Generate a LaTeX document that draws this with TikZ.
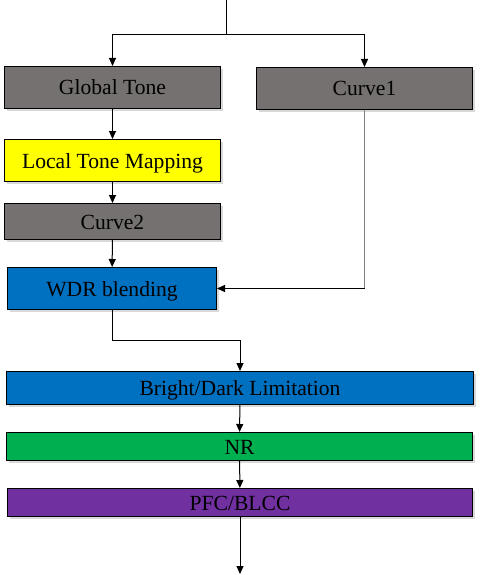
\documentclass[tikz,border=0pt]{standalone}
\usepackage{fontspec}
\setmainfont{Liberation Serif}
\usetikzlibrary{arrows.meta,shadows}
\definecolor{tonegray}{HTML}{757170}
\definecolor{ltmyellow}{HTML}{FFFF00}
\definecolor{wdrblue}{HTML}{0070C0}
\definecolor{nrgreen}{HTML}{00B050}
\definecolor{pfcpurple}{HTML}{7030A0}
\tikzset{
  blk/.style={draw=black, line width=1pt, anchor=north west, inner sep=0pt,
    text height=15pt, text depth=0pt, font=\fontsize{21.6}{25}\selectfont,
    drop shadow={shadow xshift=2.5pt, shadow yshift=-2.5pt, opacity=.3}},
  flow/.style={line width=1pt, -{Triangle[width=7pt,length=8pt]}}
}

\begin{document}
\begin{tikzpicture}[x=1pt,y=-1pt]
    \useasboundingbox (0,0) rectangle (489,575);
    % processing blocks
    \node[blk, fill=tonegray, minimum width=216pt, minimum height=42pt] (gt) at (4,66) {Global Tone};
    \node[blk, fill=tonegray, minimum width=216pt, minimum height=42pt] (cone) at (256,67) {Curve1};
    \node[blk, fill=ltmyellow, minimum width=216pt, minimum height=42pt] (ltm) at (4,139) {Local Tone Mapping};
    \node[blk, fill=tonegray, minimum width=216pt, minimum height=36pt] (ctwo) at (4,203) {Curve2};
    \node[blk, fill=wdrblue, minimum width=209pt, minimum height=42pt] (wdr) at (7,267) {WDR blending};
    \node[blk, fill=wdrblue, minimum width=467pt, minimum height=33pt] (bdl) at (6,371) {Bright/Dark Limitation};
    \node[blk, fill=nrgreen, minimum width=466pt, minimum height=28pt] (nr) at (6,432) {NR};
    \node[blk, fill=pfcpurple, minimum width=465pt, minimum height=28pt] (pfc) at (7,488) {PFC/BLCC};
    % connectors
    \coordinate (in) at (226,0);
    \coordinate (split) at (226,35);
    \coordinate (out) at (240,574);
    \coordinate (join) at (cone.south |- wdr.east);
    \draw[line width=1pt] (in) -- (split);
    \draw[flow] (split) -| (gt.north);
    \draw[flow] (split) -| (cone.north);
    \draw[flow] (gt) -- (ltm);
    \draw[flow] (ltm) -- (ctwo);
    \draw[flow] (ctwo) -- (wdr);
    \draw[line width=1pt, gray] (cone.south) -- (join);
    \draw[flow] (join) -- (wdr.east);
    \draw[flow] (wdr.south) -- ++(0,30) -| (bdl.north);
    \draw[flow] (bdl) -- (nr);
    \draw[flow] (nr) -- (pfc);
    \draw[flow] (pfc.south) -- (out);
  \end{tikzpicture}
\end{document}
